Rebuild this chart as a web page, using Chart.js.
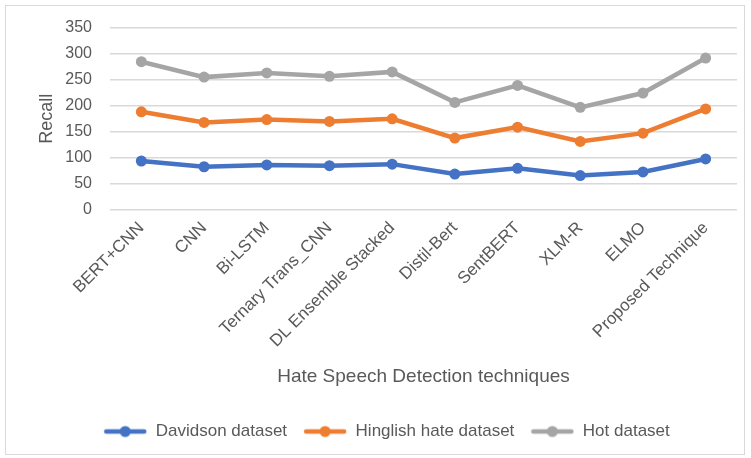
<!DOCTYPE html>
<html>
<head>
<meta charset="utf-8">
<script src="https://cdn.jsdelivr.net/npm/chart.js@4/dist/chart.umd.min.js"></script>
<style>
  html, body { margin: 0; padding: 0; background: #ffffff; }
  #wrap { position: relative; width: 751px; height: 458px; }
  #frame { position: absolute; left: 5px; top: 5px; width: 740px; height: 450px;
           border: 1.5px solid #d9d9d9; box-sizing: border-box; pointer-events: none; }
  canvas { display: block; }
</style>
</head>
<body>
<div id="wrap">
  <canvas id="chart" width="751" height="458"></canvas>
  <div id="frame"></div>
</div>
<script>
// Recall per technique, stacked across the three datasets
const techniques = ['BERT+CNN', 'CNN', 'Bi-LSTM', 'Ternary Trans_CNN', 'DL Ensemble Stacked',
                    'Distil-Bert', 'SentBERT', 'XLM-R', 'ELMO', 'Proposed Technique'];
const davidson = [94, 83, 86.5, 85, 88, 69, 80, 66, 73, 98];
const hinglish = [94.5, 85, 87, 85, 87, 69, 79, 65.5, 74.5, 96];
const hot      = [96, 87, 89.5, 86.5, 90, 68.5, 80, 65.5, 77, 97.5];
const yTicks   = [0, 50, 100, 150, 200, 250, 300, 350];

const seriesNames  = ['Davidson dataset', 'Hinglish hate dataset', 'Hot dataset'];
const seriesColors = ['#4472C4', '#ED7D31', '#A5A5A5'];
const textColor = '#595959';
const fontFamily = '"Liberation Sans", Arial, sans-serif';

// Legend swatch: short thick line with a dot in the middle
function legendSwatch(color) {
  const c = document.createElement('canvas');
  c.width = 44; c.height = 14;
  const g = c.getContext('2d');
  g.strokeStyle = color; g.lineWidth = 4.5; g.lineCap = 'round';
  g.beginPath(); g.moveTo(3, 7); g.lineTo(41, 7); g.stroke();
  g.fillStyle = color;
  g.beginPath(); g.arc(22, 7, 5.5, 0, Math.PI * 2); g.fill();
  return c;
}

const values = [davidson, hinglish, hot];
const datasets = values.map((arr, i) => ({
  label: seriesNames[i],
  data: arr,
  borderColor: seriesColors[i],
  backgroundColor: seriesColors[i],
  borderWidth: 4.5,
  pointRadius: 5.5,
  pointHoverRadius: 5.5,
  pointBorderWidth: 0,
  fill: false,
  tension: 0
}));

new Chart(document.getElementById('chart'), {
  type: 'line',
  data: { labels: techniques, datasets },
  options: {
    responsive: false,
    animation: false,
    layout: { padding: { top: 18, right: 14, left: 36, bottom: 8 } },
    plugins: {
      tooltip: { enabled: false },
      legend: {
        position: 'bottom',
        labels: {
          usePointStyle: true,
          pointStyleWidth: 44,
          color: textColor,
          font: { family: fontFamily, size: 17 },
          padding: 16,
          generateLabels: (chart) => chart.data.datasets.map((ds, i) => ({
            text: ds.label,
            pointStyle: legendSwatch(seriesColors[i]),
            fillStyle: seriesColors[i],
            strokeStyle: seriesColors[i],
            fontColor: textColor,
            lineWidth: 0,
            datasetIndex: i,
            hidden: false
          }))
        }
      }
    },
    scales: {
      x: {
        offset: true,
        grid: { display: false, drawTicks: false },
        border: { display: false },
        ticks: {
          color: textColor,
          font: { family: fontFamily, size: 17 },
          minRotation: 45, maxRotation: 45,
          padding: 8,
          autoSkip: false
        },
        title: {
          display: true,
          text: 'Hate Speech Detection techniques',
          color: textColor,
          font: { family: fontFamily, size: 19 },
          padding: { top: 18, bottom: 19 }
        },
        afterFit: (s) => { s.height = 197; }
      },
      y: {
        stacked: true,
        min: 0, max: 350,
        afterBuildTicks: (s) => { s.ticks = yTicks.map(v => ({ value: v })); },
        grid: { color: '#d9d9d9', lineWidth: 1.5, drawTicks: false },
        border: { display: false },
        ticks: {
          color: textColor,
          font: { family: fontFamily, size: 16 },
          padding: 18
        },
        title: {
          display: true,
          text: 'Recall',
          color: textColor,
          font: { family: fontFamily, size: 18 },
          padding: { top: 0, bottom: 6 }
        },
        afterFit: (s) => { s.width = 74; }
      }
    }
  }
});
</script>
</body>
</html>
